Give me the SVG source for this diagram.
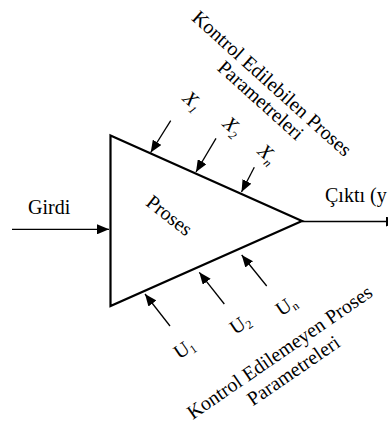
<svg xmlns="http://www.w3.org/2000/svg" width="388" height="426" viewBox="0 0 388 426">
<style>
text{font-family:"Liberation Serif","Times New Roman",serif;font-size:20px;fill:#000}
.sub{font-size:12px}
.it{font-style:italic}
.ln{stroke:#000;stroke-width:1.3;fill:none;marker-end:url(#ah)}
</style>
<defs>
<marker id="ah" viewBox="0 0 12 10" refX="12" refY="5" markerWidth="12" markerHeight="10" markerUnits="userSpaceOnUse" orient="auto"><path d="M0,0 L12,5 L0,10 Z" fill="#000"/></marker>
</defs>
<rect width="388" height="426" fill="#fff"/>
<g id="proses">
<polygon points="110.5,135.5 302,221 110.5,306" fill="none" stroke="#000" stroke-width="2.2" stroke-linejoin="miter"/>
<text transform="translate(168.3,216.7) rotate(38)" text-anchor="middle" y="5">Proses</text>
</g>
<g id="girdi"><text x="28" y="214">Girdi</text></g>
<g id="cikti"><text x="325" y="202">Çıktı (y</text></g>
<g id="kontrol-edilebilen" transform="translate(267.5,88.3) rotate(42)">
<text text-anchor="middle" y="0">Kontrol Edilebilen Proses</text>
<text text-anchor="middle" x="3" y="20">Parametreleri</text>
</g>
<g id="kontrol-edilemeyen" transform="translate(283.3,357.7) rotate(-34.5)">
<text text-anchor="middle" y="0">Kontrol Edilemeyen Proses</text>
<text text-anchor="middle" x="1" y="23">Parametreleri</text>
</g>
<g id="x1" transform="translate(190,102) rotate(42)"><text class="it" x="-8" y="4">X<tspan class="sub" dy="4">1</tspan></text></g>
<g id="x2" transform="translate(230,127.5) rotate(42)"><text class="it" x="-8" y="4">X<tspan class="sub" dy="4">2</tspan></text></g>
<g id="xn" transform="translate(265,155) rotate(42)"><text class="it" x="-8" y="4">X<tspan class="sub" dy="4">n</tspan></text></g>
<g id="u1" transform="translate(184,350.5) rotate(-34)"><text x="-9" y="5">U<tspan class="sub" dy="3">1</tspan></text></g>
<g id="u2" transform="translate(240,326) rotate(-34)"><text x="-9" y="5">U<tspan class="sub" dy="3">2</tspan></text></g>
<g id="un" transform="translate(286,307.5) rotate(-34)"><text x="-9" y="5">U<tspan class="sub" dy="3">n</tspan></text></g>
<g id="connectors">
<path class="ln" d="M12,229.3 L109,229.3"/>
<path class="ln" d="M302,221.5 L398,221.5"/>
<path class="ln" d="M170.7,120.7 L150.7,152.5"/>
<path class="ln" d="M216,138.3 L196,172"/>
<path class="ln" d="M254.3,167.3 L241.5,192"/>
<path class="ln" d="M170,326 L145,294"/>
<path class="ln" d="M224.3,304 L199.3,272.3"/>
<path class="ln" d="M266.7,286 L241.7,255"/>
</g>
</svg>
